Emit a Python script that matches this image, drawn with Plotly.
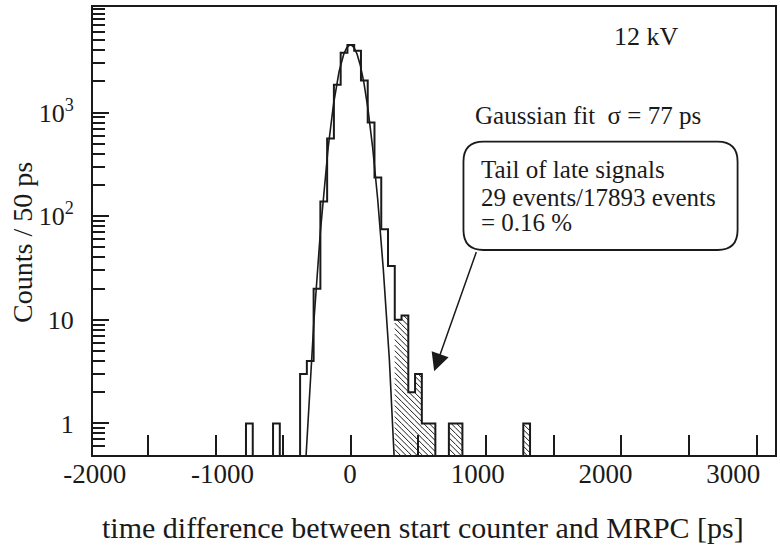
import numpy as np
import plotly.graph_objects as go

# ---------------- data ----------------
bin_width = 50  # ps
bin_centers = [-750, -550, -350, -300, -250, -200, -150, -100, -50, 0, 50, 100,
               150, 200, 250, 300, 350, 400, 450, 500, 550, 600, 750, 800, 1300]
counts = [1, 1, 3, 4, 20, 139, 563, 1860, 3780, 4500, 3970, 2040,
          802, 237, 75, 33, 10, 11, 2, 3, 1, 1, 1, 1, 1]
tail_centers = [350, 400, 450, 500, 550, 600, 750, 800, 1300]
tail_counts = [10, 11, 2, 3, 1, 1, 1, 1, 1]

fit_mean = -3
fit_sigma = 77
fit_amp = 4500

x_label_vals = [-2000, -1000, 0, 1000, 2000, 3000]
y_label_vals = [1, 10, 100, 1000]
y_label_text = ["1", "10", "10<sup>2</sup>", "10<sup>3</sup>"]

FONT = "Liberation Serif"
INK = "#1a1a1a"
FLOOR = 1e-3  # below the visible log range: used for empty bins when drawing

W, H = 780, 547
L, R, T, B = 93, 774.7, 7, 455
XR = [-1906, 3136]        # data range of the x axis
XR_LAB = [-2014, 3328]    # range of the label axis (labels drawn as in the reference)
YR = [-0.305, 4.02]       # log10 range of the y axis


def step_path(centers, values):
    lookup = dict(zip(centers, values))
    grid = list(range(min(centers) - bin_width, max(centers) + 2 * bin_width, bin_width))
    xs, ys = [], []
    for c in grid:
        xs.append(c - bin_width / 2)
        v = lookup.get(c, 0)
        ys.append(v if v > 0 else FLOOR)
    xs.append(grid[-1] + bin_width / 2)
    ys.append(ys[-1])
    return xs, ys


# axis <-> pixel helpers (used for hatching at 45 degrees on screen)
def x2p(t):
    return L + (t - XR[0]) / (XR[1] - XR[0]) * (R - L)


def p2x(p):
    return XR[0] + (p - L) / (R - L) * (XR[1] - XR[0])


def y2p(v):
    return B - (np.log10(v) - YR[0]) / (YR[1] - YR[0]) * (B - T)


def p2y(p):
    return 10 ** (YR[0] + (B - p) / (B - T) * (YR[1] - YR[0]))


def hatch_lines(centers, values, spacing=5.5):
    hx, hy = [], []
    for c, v in zip(centers, values):
        xl, xr = x2p(c - bin_width / 2), x2p(c + bin_width / 2)
        yt, yb = y2p(v), B + 2
        kmin = int(np.floor((yt - xr) / spacing)) - 1
        kmax = int(np.ceil((yb - xl) / spacing)) + 1
        for k in range(kmin, kmax + 1):
            kk = k * spacing
            a = max(xl, yt - kk)
            b = min(xr, yb - kk)
            if b > a:
                hx += [p2x(a), p2x(b), None]
                hy += [p2y(a + kk), p2y(b + kk), None]
    return hx, hy


fig = go.Figure()

# hatched tail (late signals)
hx, hy = hatch_lines(tail_centers, tail_counts)
fig.add_trace(go.Scatter(x=hx, y=hy, mode="lines", line=dict(color=INK, width=1),
                         showlegend=False, hoverinfo="skip", connectgaps=False))

# histogram outline
sx, sy = step_path(bin_centers, counts)
fig.add_trace(go.Scatter(
    x=sx, y=sy, mode="lines", line=dict(color=INK, width=2, shape="hv"),
    showlegend=False, hoverinfo="skip"))

# gaussian fit
tf = np.linspace(-450, 450, 901)
yf = fit_amp * np.exp(-0.5 * ((tf - fit_mean) / fit_sigma) ** 2)
fig.add_trace(go.Scatter(
    x=tf, y=yf, mode="lines", line=dict(color=INK, width=1.6),
    showlegend=False, hoverinfo="skip"))

# carrier trace for the label axis
fig.add_trace(go.Scatter(x=[0], y=[1], xaxis="x2", mode="markers",
                         marker=dict(opacity=0), showlegend=False, hoverinfo="skip"))


def px(xp):
    return (xp - L) / (R - L)


def py(yp):
    return (B - yp) / (B - T)


minor_vals = [0.5, 0.6, 0.7, 0.8, 0.9]
for d in [1, 10, 100, 1000]:
    minor_vals += [k * d for k in range(2, 10)]
minor_vals.append(10000)

fig.update_layout(
    width=W, height=H,
    margin=dict(l=L, r=W - R, t=T, b=H - B, autoexpand=False),
    paper_bgcolor="white", plot_bgcolor="white",
    font=dict(family=FONT, size=27, color=INK),
    xaxis=dict(range=XR, tick0=0, dtick=500, ticks="inside", ticklen=20,
               tickwidth=1.8, tickcolor=INK, showticklabels=False,
               showline=True, linecolor=INK, linewidth=2, mirror=True,
               showgrid=False, zeroline=False, automargin=False),
    xaxis2=dict(range=XR_LAB, overlaying="x", side="bottom", anchor="y",
                tickmode="array", tickvals=x_label_vals,
                ticktext=[str(v) for v in x_label_vals],
                ticks="", showline=False, showgrid=False, zeroline=False,
                tickfont=dict(size=27), automargin=False),
    yaxis=dict(type="log", range=YR,
               tickmode="array", tickvals=y_label_vals, ticktext=y_label_text,
               ticks="inside", ticklen=16, tickwidth=1.8, tickcolor=INK,
               minor=dict(tickmode="array", tickvals=minor_vals, ticks="inside",
                          ticklen=12, tickwidth=1.6, tickcolor=INK),
               showline=True, linecolor=INK, linewidth=2, mirror=True,
               showgrid=False, zeroline=False, ticklabelstandoff=12,
               tickfont=dict(size=26), automargin=False),
)

# rounded box
x0, x1 = px(463.3), px(737.3)
y0, y1 = py(250), py(141.7)
rx, ry = 20 / (R - L), 20 / (B - T)
path = (f"M{x0+rx},{y0} L{x1-rx},{y0} Q{x1},{y0} {x1},{y0+ry} "
        f"L{x1},{y1-ry} Q{x1},{y1} {x1-rx},{y1} L{x0+rx},{y1} "
        f"Q{x0},{y1} {x0},{y1-ry} L{x0},{y0+ry} Q{x0},{y0} {x0+rx},{y0} Z")
fig.add_shape(type="path", path=path, xref="paper", yref="paper",
              line=dict(color=INK, width=1.8), fillcolor="white")

ann = [
    dict(text="12 kV", x=px(646), y=py(36), xanchor="center", size=26, angle=0),
    dict(text="Gaussian fit  σ = 77 ps", x=px(472.7), y=py(116), xanchor="left", size=25, angle=0),
    dict(text="Tail of late signals", x=px(479), y=py(169), xanchor="left", size=25, angle=0),
    dict(text="29 events/17893 events", x=px(479), y=py(197), xanchor="left", size=25, angle=0),
    dict(text="= 0.16 %", x=px(479), y=py(223), xanchor="left", size=25, angle=0),
    dict(text="time difference between start counter and MRPC [ps]", x=px(423), y=py(527),
         xanchor="center", size=30, angle=0),
    dict(text="Counts / 50 ps", x=px(22), y=py(242), xanchor="center", size=28, angle=-90),
]
for a in ann:
    fig.add_annotation(text=a["text"], x=a["x"], y=a["y"], xref="paper", yref="paper",
                       xanchor=a["xanchor"], yanchor="middle", showarrow=False,
                       textangle=a["angle"],
                       font=dict(family=FONT, size=a["size"], color=INK))

# arrow from box to tail
fig.add_annotation(x=616, y=0.503, xref="x", yref="y", text="", showarrow=True,
                   ax=42.7, ay=-120.7, axref="pixel", ayref="pixel",
                   arrowhead=2, arrowsize=2.4, arrowwidth=1.5, arrowcolor=INK)

fig.write_html("out.html", config={"displayModeBar": False},
               post_script="document.body.style.margin='0px';document.body.style.overflow='hidden';")
